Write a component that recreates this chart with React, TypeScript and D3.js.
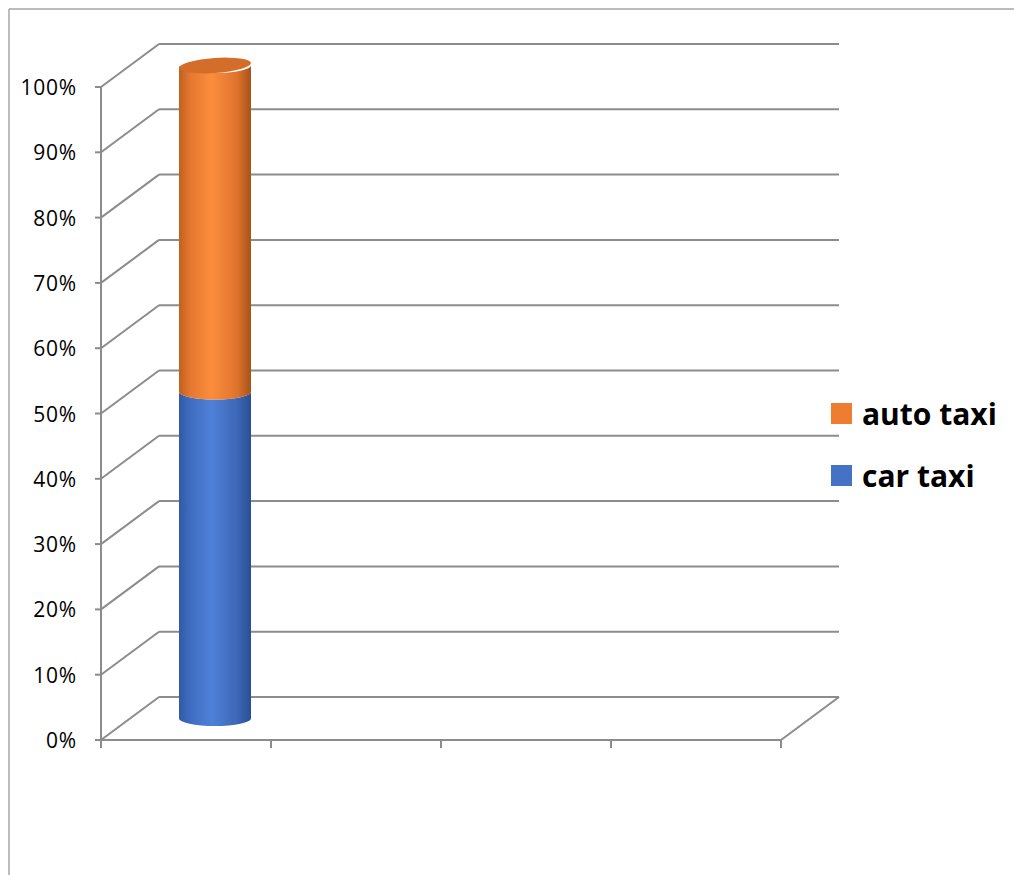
import React from "react";
import * as d3 from "d3";

const categories = ["c1", "c2", "c3", "c4"];
const carTaxi = [0.5, 0, 0, 0];
const autoTaxi = [0.5, 0, 0, 0];
const yTicks = [0, 0.1, 0.2, 0.3, 0.4, 0.5, 0.6, 0.7, 0.8, 0.9, 1.0];
const seriesNames = ["auto taxi", "car taxi"];

const W = 1014;
const H = 875;
const DX = 58;
const DY = -43;
const GRID = "#8c8c8c";

export default function App() {
  const y = d3.scaleLinear().domain([0, 1]).range([740, 87]);
  const x = d3.scaleBand<string>().domain(categories).range([101, 781]);
  const fmt = d3.format(".0%");
  const rx = 36;
  const ry = 7.5;
  const midDX = DX / 2;
  const midDY = DY / 2;

  const cyl = (cx: number, y0: number, y1: number, fill: string, topFill: string | null, key: string) => {
    const path = `M${cx - rx},${y1} L${cx - rx},${y0} A${rx},${ry} 0 0 0 ${cx + rx},${y0} L${cx + rx},${y1} A${rx},${ry} 0 0 1 ${cx - rx},${y1} Z`;
    return (
      <g key={key}>
        <path d={path} fill={fill} />
        {topFill && <ellipse cx={cx} cy={y1} rx={rx} ry={ry} fill={topFill} transform={`rotate(-4 ${cx} ${y1})`} />}
      </g>
    );
  };

  return (
    <svg width={W} height={H} style={{ position: "absolute", left: 0, top: 0 }} fontFamily="'Open Sans', 'Noto Sans', sans-serif">
      <defs>
        <linearGradient id="gOrange" x1="0" x2="1" y1="0" y2="0">
          <stop offset="0" stopColor="#c0601f" />
          <stop offset="0.15" stopColor="#e5772f" />
          <stop offset="0.45" stopColor="#fb8d3c" />
          <stop offset="0.8" stopColor="#e0742d" />
          <stop offset="1" stopColor="#a9521a" />
        </linearGradient>
        <linearGradient id="gBlue" x1="0" x2="1" y1="0" y2="0">
          <stop offset="0" stopColor="#2f5aa6" />
          <stop offset="0.15" stopColor="#3f6cc0" />
          <stop offset="0.45" stopColor="#4f80d8" />
          <stop offset="0.8" stopColor="#3e68b8" />
          <stop offset="1" stopColor="#2a4f93" />
        </linearGradient>
      </defs>
      <rect x={0} y={0} width={W} height={H} fill="#fff" />
      <line x1={9} y1={9} x2={9} y2={H} stroke="#a6a6a6" strokeWidth={1.5} />
      <line x1={9} y1={9} x2={W} y2={9} stroke="#a6a6a6" strokeWidth={1.5} />

      {yTicks.map((t, i) => (
        <g key={`g${i}`}>
          <line x1={101} y1={y(t)} x2={101 + DX} y2={y(t) + DY} stroke={GRID} strokeWidth={2} />
          <line x1={101 + DX} y1={y(t) + DY} x2={781 + DX} y2={y(t) + DY} stroke={GRID} strokeWidth={2} />
          <line x1={95} y1={y(t)} x2={101} y2={y(t)} stroke={GRID} strokeWidth={2} />
          <text x={77} y={y(t) + 8} textAnchor="end" fontSize={21} letterSpacing={0.8} fill="#000">{fmt(t)}</text>
        </g>
      ))}
      <line x1={101} y1={y(1)} x2={101} y2={y(0)} stroke={GRID} strokeWidth={2} />
      <line x1={101} y1={y(0)} x2={781} y2={y(0)} stroke={GRID} strokeWidth={2} />
      <line x1={781} y1={y(0)} x2={781 + DX} y2={y(0) + DY} stroke={GRID} strokeWidth={2} />
      {[...categories.map((c) => x(c) as number), 781].map((tx, i) => (
        <line key={`xt${i}`} x1={tx} y1={y(0)} x2={tx} y2={y(0) + 8} stroke={GRID} strokeWidth={2} />
      ))}

      {categories.map((c, i) => {
        const total = carTaxi[i] + autoTaxi[i];
        if (total <= 0) return null;
        const cx = (x(c) as number) + x.bandwidth() / 2 + midDX;
        const yb = y(0) + midDY;
        const ym = y(carTaxi[i] / total) + midDY;
        const yt = y(1) + midDY;
        return (
          <g key={c}>
            {cyl(cx, yb, ym, "url(#gBlue)", null, `b${i}`)}
            {cyl(cx, ym, yt, "url(#gOrange)", "#d46d2a", `o${i}`)}
          </g>
        );
      })}

      <rect x={831} y={403} width={21} height={21} fill="#ED7D31" />
      <text x={862} y={425} fontSize={30} fontWeight="bold" fill="#000">{seriesNames[0]}</text>
      <rect x={831} y={465} width={21} height={21} fill="#4472C4" />
      <text x={862} y={487} fontSize={30} fontWeight="bold" fill="#000">{seriesNames[1]}</text>
    </svg>
  );
}
